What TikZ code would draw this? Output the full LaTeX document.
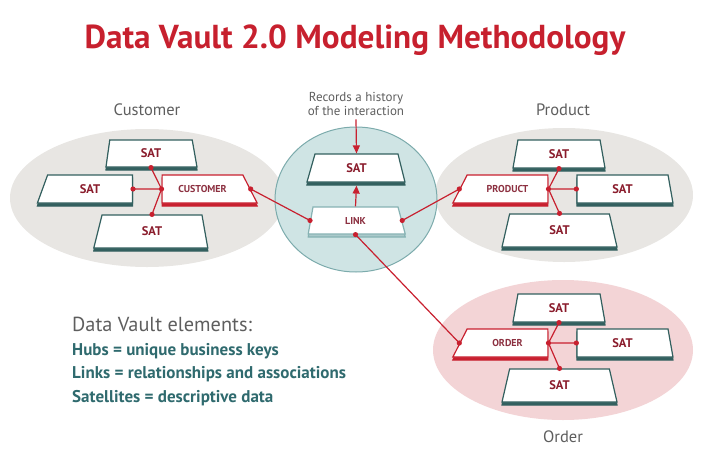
\documentclass[tikz,border=0pt]{standalone}
\usepackage{fontspec}
\setmainfont{PT Sans}
\usetikzlibrary{shapes.geometric,shadows,arrows.meta}

\definecolor{titlered}{HTML}{C7202E}
\definecolor{wirered}{HTML}{C8202F}
\definecolor{sattext}{HTML}{8A1C2C}
\definecolor{hubtext}{HTML}{8C3040}
\definecolor{satline}{HTML}{33605F}
\definecolor{linkline}{HTML}{86B2B3}
\definecolor{labelgray}{HTML}{5E5E5E}
\definecolor{legendteal}{HTML}{2F6A6E}
\definecolor{grayzone}{HTML}{E8E6E3}
\definecolor{pinkzone}{HTML}{F3D4D6}
\definecolor{tealzone}{HTML}{CFE4E4}
\definecolor{tealedge}{HTML}{7CABAC}

\begin{document}
\begin{tikzpicture}[x=1pt,y=-1pt,
  slab/.style n args={5}{trapezium, trapezium stretches body,
    trapezium left angle=#1, trapezium right angle=#2,
    minimum width=#3pt, inner xsep=0pt, text height=#5pt, text depth=0pt,
    inner ysep={(#4pt-#5pt)/2}, fill=white, line width=1.2pt},
  sat/.style n args={4}{slab={#1}{#2}{#3}{#4}{8.75},
    draw=satline, text=sattext, font=\bfseries\fontsize{12.5}{12.5}\selectfont,
    copy shadow={shadow xshift=0pt, shadow yshift=-3pt, draw=satline, fill=satline}},
  hub/.style 2 args={slab={#1}{#2}{95}{28}{7},
    draw=wirered, text=hubtext, font=\bfseries\fontsize{10}{10}\selectfont,
    copy shadow={shadow xshift=0pt, shadow yshift=-3pt, draw=wirered, fill=wirered}},
  linkbox/.style n args={4}{slab={#1}{#2}{#3}{#4}{7},
    draw=linkline, text=hubtext, font=\bfseries\fontsize{10}{10}\selectfont,
    copy shadow={shadow xshift=0pt, shadow yshift=-3pt, draw=linkline, fill=linkline!70}},
  wire/.style={draw=wirered, line width=1.2pt},
  arr/.style={wire, -{Triangle[width=7pt,length=8pt]}},
  zonelabel/.style={text=labelgray, font=\fontsize{16.5}{16.5}\selectfont},
  legend/.style={anchor=base west, inner sep=0pt, text=legendteal, font=\bfseries\fontsize{17}{17}\selectfont}
]
\useasboundingbox (0,0) rectangle (705,464);

% zones
\fill[grayzone] (147,198) ellipse (137pt and 69pt);
\fill[grayzone] (564,195) ellipse (129pt and 67pt);
\fill[pinkzone] (563,350) ellipse (130pt and 70pt);
\filldraw[fill=tealzone, draw=tealedge, line width=1pt] (356,199.5) ellipse (81pt and 72.5pt);

\node[text=titlered, font=\bfseries\fontsize{33.2}{33.2}\selectfont] (title) at (355,40) {Data Vault 2.0 Modeling Methodology};

\node[zonelabel] (custlbl) at (147,110) {Customer};
\node[zonelabel] (prodlbl) at (563,110) {Product};
\node[zonelabel] (ordlbl) at (563,437) {Order};
\node[text=labelgray, align=center, font=\fontsize{13}{14.5}\selectfont] (rec) at (356,104) {Records a history\\of the interaction};

% customer
\node[sat={82}{80}{91}{27}] (satCt) at (151,153.5) {SAT};
\node[sat={70}{90}{95}{28}] (satCl) at (90,189) {SAT};
\node[sat={76}{80}{114}{33}] (satCb) at (152,231.5) {SAT};
\node[hub={90}{63}] (hubC) at (202.5,189) {CUSTOMER};

% link
\node[sat={74}{76}{98}{28}] (satL) at (356.5,168) {SAT};
\node[linkbox={80}{75}{97}{27}] (link) at (355.5,220.5) {LINK};

% product
\node[sat={80}{80}{92}{28}] (satPt) at (559,154) {SAT};
\node[hub={63}{90}] (hubP) at (507.5,189) {PRODUCT};
\node[sat={90}{80}{96}{28}] (satPr) at (622.5,189) {SAT};
\node[sat={77}{77}{115}{33}] (satPb) at (559.5,230.5) {SAT};

% order
\node[sat={80}{80}{92}{28}] (satOt) at (559,308) {SAT};
\node[hub={63}{90}] (hubO) at (507.5,343) {ORDER};
\node[sat={90}{80}{96}{28}] (satOr) at (622.5,343) {SAT};
\node[sat={77}{77}{115}{33}] (satOb) at (559.5,385.5) {SAT};

% wires
\path[wire] (hubC.west) -- (satCt.south);
\path[wire] (hubC.west) -- (satCl.east);
\path[wire] (hubC.west) -- (satCb.north);
\path[wire] (hubC.east) -- (link.west);
\path[wire] (link.east) -- (hubP.west);
\path[wire] (link.south) -- (hubO.west);
\path[wire] (hubP.east) -- (satPt.south);
\path[wire] (hubP.east) -- (satPr.west);
\path[wire] (hubP.east) -- (satPb.north);
\path[wire] (hubO.east) -- (satOt.south);
\path[wire] (hubO.east) -- (satOr.west);
\path[wire] (hubO.east) -- (satOb.north);
\path[arr] (link.north) -- ([yshift=-3pt]satL.south);
\path[arr] (rec.south) -- (satL.north);

\foreach \p in {hubC.west,hubC.east,satCt.south,satCl.east,satCb.north,
  link.west,link.east,link.south,
  hubP.west,hubP.east,satPt.south,satPr.west,satPb.north,
  hubO.west,hubO.east,satOt.south,satOr.west,satOb.north}
  \fill[wirered] (\p) circle (2.6pt);

% legend
\node[anchor=base west, inner sep=0pt, text=labelgray, font=\fontsize{20.3}{20.3}\selectfont] (lghead) at (72,331) {Data Vault elements:};
\node[legend] (lghub) at (72,355) {Hubs = unique business keys};
\node[legend] (lglink) at (72,378) {Links = relationships and associations};
\node[legend] (lgsat) at (72,402) {Satellites = descriptive data};
\end{tikzpicture}
\end{document}
